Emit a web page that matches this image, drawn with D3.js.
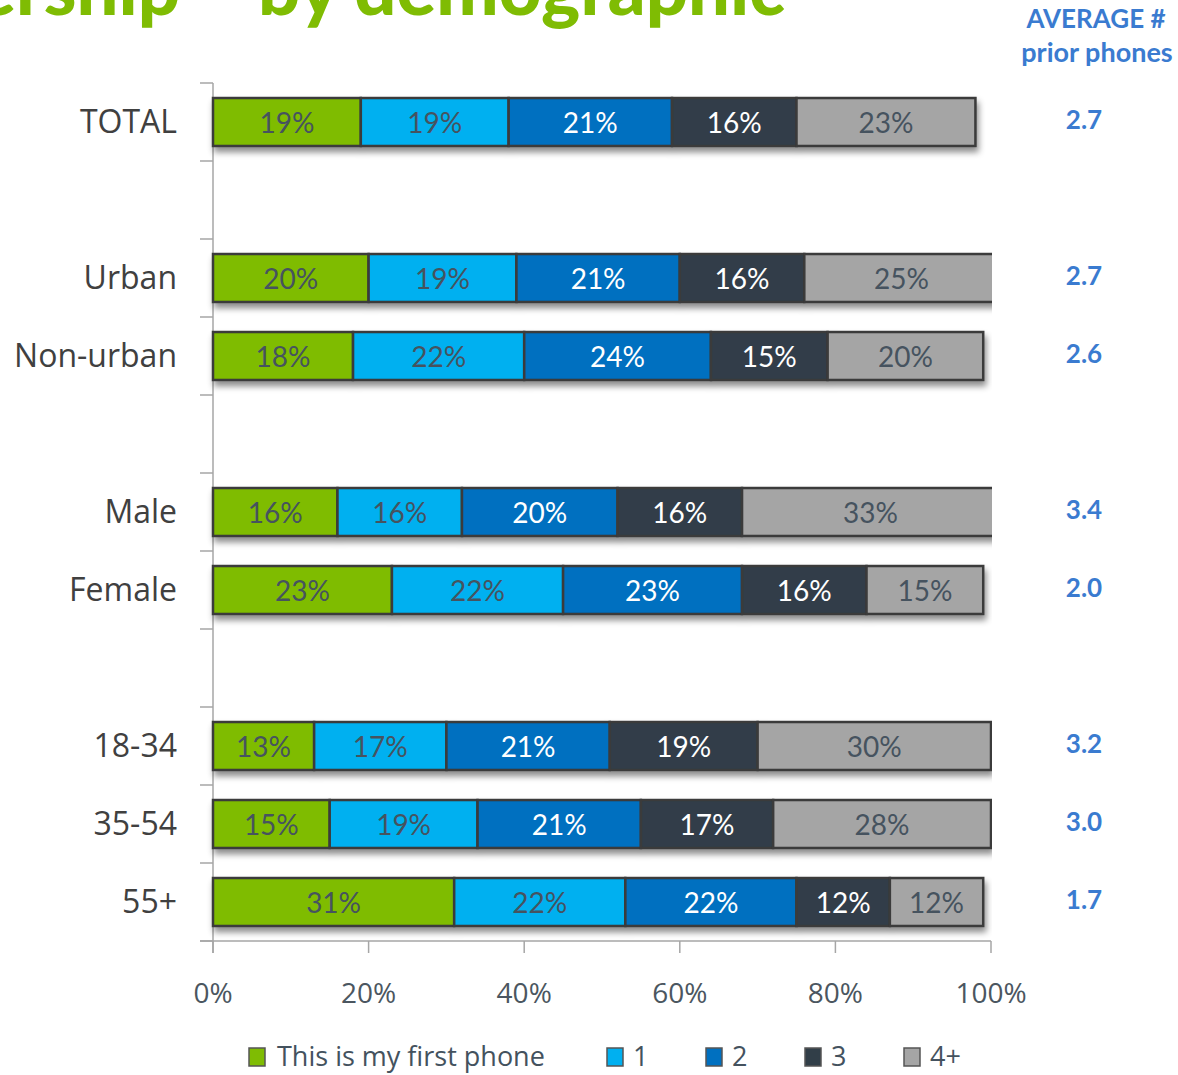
<!DOCTYPE html>
<html>
<head>
<meta charset="utf-8">
<script src="https://d3js.org/d3.v7.min.js"></script>
<style>
  html, body { margin: 0; padding: 0; background: #fff; }
  svg { display: block; font-family: Lato, "Open Sans", sans-serif; }
</style>
</head>
<body>
<div id="chart"></div>
<script>
// categories (empty strings are the spacer rows between groups)
const categories = ['TOTAL', '', 'Urban', 'Non-urban', '', 'Male', 'Female', '', '18-34', '35-54', '55+'];
const seriesNames = ['This is my first phone', '1', '2', '3', '4+'];

// values per series, in the order of the non-empty categories
const firstPhone = [19, 20, 18, 16, 23, 13, 15, 31];
const onePrior   = [19, 19, 22, 16, 22, 17, 19, 22];
const twoPrior   = [21, 21, 24, 20, 23, 21, 21, 22];
const threePrior = [16, 16, 15, 16, 16, 19, 17, 12];
const fourPlus   = [23, 25, 20, 33, 15, 30, 28, 12];
const averages   = ['2.7', '2.7', '2.6', '3.4', '2.0', '3.2', '3.0', '1.7'];

const xTicks = [0, 20, 40, 60, 80, 100];

const colors = ['#7fbc03', '#00b0f0', '#0070c0', '#313e48', '#a5a5a5'];
const labelColors = ['#46535f', '#46535f', '#ffffff', '#ffffff', '#46535f'];

const width = 1178, height = 1075;
const sideFont = '"Open Sans", Lato, sans-serif';

const svg = d3.select('#chart').append('svg')
    .attr('width', width)
    .attr('height', height);

// Scales
const x = d3.scaleLinear().domain([0, 100]).range([213, 991]);
const y = d3.scaleBand()
    .domain(d3.range(categories.length))
    .range([83, 941])
    .paddingInner(0.385)
    .paddingOuter(0.1925);
const step = y.step();

const defs = svg.append('defs');
defs.append('clipPath').attr('id', 'plotClip')
    .append('rect').attr('x', 200).attr('y', 0).attr('width', x(100) - 200 + 1).attr('height', height);
const shadow = defs.append('filter').attr('id', 'shadow')
    .attr('x', '-5%').attr('y', '-30%').attr('width', '110%').attr('height', '180%');
shadow.append('feDropShadow')
    .attr('dx', 2).attr('dy', 5).attr('stdDeviation', 3)
    .attr('flood-color', '#000').attr('flood-opacity', 0.45);

// Title (cut off at top of the picture, as in the original slide)
svg.append('text')
    .attr('x', 785).attr('y', 15)
    .attr('text-anchor', 'end')
    .attr('font-size', 74)
    .attr('font-weight', 900)
    .attr('fill', '#7fbc03')
    .text('Phone ownership – by demographic');

// build stacked rows
const rows = [];
let k = 0;
categories.forEach((c, i) => {
    if (!c) return;
    const vals = [firstPhone[k], onePrior[k], twoPrior[k], threePrior[k], fourPlus[k]];
    let acc = 0;
    const segs = vals.map((v, s) => {
        const seg = { s, v, x0: acc, x1: acc + v };
        acc += v;
        return seg;
    });
    rows.push({ cat: c, slot: i, segs, avg: averages[k] });
    k++;
});

// Axis lines
const axisColor = '#a6a6a6';
const axes = svg.append('g').attr('stroke', axisColor).attr('stroke-width', 1.5);
axes.append('line')
    .attr('x1', x(0)).attr('x2', x(0))
    .attr('y1', 83).attr('y2', 941 + 12);
axes.selectAll('line.ytick')
    .data(d3.range(categories.length + 1))
    .join('line')
    .attr('class', 'ytick')
    .attr('x1', 200).attr('x2', x(0))
    .attr('y1', i => 83 + i * step).attr('y2', i => 83 + i * step);
axes.append('line')
    .attr('x1', 200).attr('x2', x(100))
    .attr('y1', 941).attr('y2', 941);
axes.selectAll('line.xtick')
    .data(xTicks)
    .join('line')
    .attr('class', 'xtick')
    .attr('x1', d => x(d)).attr('x2', d => x(d))
    .attr('y1', 941).attr('y2', 953);

svg.append('g').selectAll('text')
    .data(xTicks)
    .join('text')
    .attr('x', d => x(d))
    .attr('y', 1003)
    .attr('text-anchor', 'middle')
    .attr('font-family', sideFont)
    .attr('font-size', 28)
    .attr('fill', '#4b5660')
    .text(d => d + '%');

// Bars
const barG = svg.append('g').attr('clip-path', 'url(#plotClip)');
const rowG = barG.selectAll('g.row')
    .data(rows)
    .join('g')
    .attr('class', 'row')
    .attr('transform', d => `translate(0,${y(d.slot)})`);

rowG.append('g')
    .attr('filter', 'url(#shadow)')
    .selectAll('rect')
    .data(d => d.segs)
    .join('rect')
    .attr('x', d => x(d.x0))
    .attr('width', d => x(d.x1) - x(d.x0))
    .attr('y', 0)
    .attr('height', y.bandwidth())
    .attr('fill', d => colors[d.s])
    .attr('stroke', '#3a3a3a')
    .attr('stroke-width', 2.5);

rowG.selectAll('text')
    .data(d => d.segs)
    .join('text')
    .attr('x', d => x((d.x0 + d.x1) / 2))
    .attr('y', y.bandwidth() / 2 + 11)
    .attr('text-anchor', 'middle')
    .attr('font-size', 28)
    .attr('fill', d => labelColors[d.s])
    .text(d => d.v + '%');

// Category labels
svg.append('g').selectAll('text')
    .data(rows)
    .join('text')
    .attr('x', 177)
    .attr('y', d => y(d.slot) + y.bandwidth() / 2 + 11)
    .attr('text-anchor', 'end')
    .attr('font-family', sideFont)
    .attr('font-size', 32)
    .attr('fill', '#404040')
    .text(d => d.cat);

// Average column
const avgColor = '#3a7bd0';
svg.append('text')
    .attr('x', 1096).attr('y', 28)
    .attr('text-anchor', 'middle')
    .attr('font-size', 26).attr('font-weight', 700)
    .attr('fill', avgColor)
    .text('AVERAGE #');
svg.append('text')
    .attr('x', 1097).attr('y', 62)
    .attr('text-anchor', 'middle')
    .attr('font-size', 27).attr('font-weight', 700)
    .attr('fill', avgColor)
    .text('prior phones');
svg.append('g').selectAll('text')
    .data(rows)
    .join('text')
    .attr('x', 1084)
    .attr('y', d => y(d.slot) + y.bandwidth() / 2 + 7)
    .attr('text-anchor', 'middle')
    .attr('font-size', 26).attr('font-weight', 700)
    .attr('fill', avgColor)
    .text(d => d.avg);

// Legend
const legendX = [249, 607, 706, 805, 904];
const legend = svg.append('g').selectAll('g')
    .data(seriesNames)
    .join('g')
    .attr('transform', (d, i) => `translate(${legendX[i]},1048)`);
legend.append('rect')
    .attr('width', 16).attr('height', 18)
    .attr('fill', (d, i) => colors[i])
    .attr('stroke', '#555')
    .attr('stroke-width', 1.5);
legend.append('text')
    .attr('x', (d, i) => i === 0 ? 28 : 26)
    .attr('y', 18)
    .attr('font-family', sideFont)
    .attr('font-size', 27)
    .attr('fill', '#44525e')
    .text(d => d);
</script>
</body>
</html>
